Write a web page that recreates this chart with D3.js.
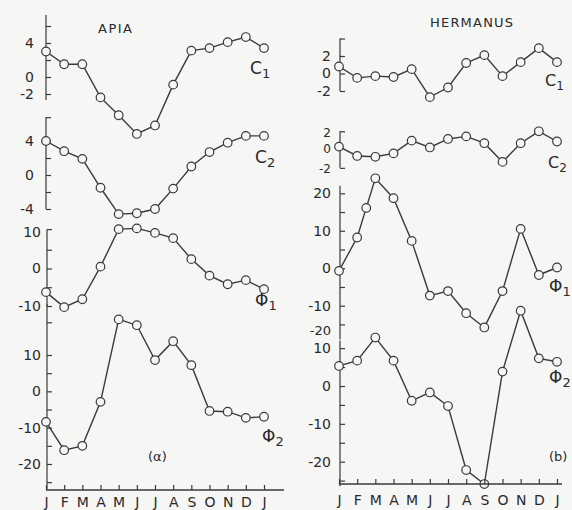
<!DOCTYPE html>
<html>
<head>
<meta charset="utf-8">
<script src="https://cdn.jsdelivr.net/npm/d3@7"></script>
<style>
  body { margin: 0; background: #f6f6f4; }
  svg { display: block; }
  text { font-family: "DejaVu Sans", sans-serif; fill: #2a2a2a; }
</style>
</head>
<body>
<svg id="chart" width="572" height="510"></svg>
<script>
// month initials along the bottom
var months = ["J","F","M","A","M","J","J","A","S","O","N","D","J"];
var monthIdx = d3.range(13);

// Apia (a)
var apiaC1   = [3.0, 1.5, 1.5, -2.4, -4.5, -6.7, -5.7, -0.9, 3.1, 3.4, 4.1, 4.7, 3.4];
var apiaC2   = [4.0, 2.8, 1.9, -1.5, -4.6, -4.5, -4.0, -1.6, 1.0, 2.7, 3.8, 4.6, 4.6];
var apiaPhi1 = [-6.3, -10.3, -8.2, 0.5, 10.5, 10.7, 9.5, 8.1, 2.5, -1.9, -4.2, -3.1, -5.5];
var apiaPhi2 = [-8.4, -16.2, -15.0, -2.9, 19.8, 18.2, 8.6, 13.8, 7.2, -5.4, -5.6, -7.3, -7.0];

// Hermanus (b)
var hermC1   = [0.8, -0.5, -0.3, -0.4, 0.5, -2.7, -1.6, 1.2, 2.1, -0.3, 1.3, 2.9, 1.3];
var hermC2   = [0.4, -0.7, -0.8, -0.4, 1.1, 0.3, 1.3, 1.6, 0.8, -1.4, 0.8, 2.2, 1.0];
var hermPhi1Idx = [0, 1, 1.5, 2, 3, 4, 5, 6, 7, 8, 9, 10, 11, 12];
var hermPhi1 = [-0.7, 8.2, 16.1, 24.0, 18.7, 7.3, -7.3, -6.1, -12.0, -15.8, -6.1, 10.5, -1.8, 0.2];
var hermPhi2 = [5.3, 6.7, 12.8, 6.7, -3.9, -1.7, -5.3, -22.2, -25.9, 3.8, 19.9, 7.3, 6.4];

var ink = "#3a3a3a";
var svg = d3.select("#chart");

var xA = d3.scaleLinear().domain([0, 12]).range([46, 264]);
var xB = d3.scaleLinear().domain([0, 12]).range([339, 557]);

// one small plot: y axis with right-pointing ticks, line and open circles
function plot(o) {
  var y = d3.scaleLinear().domain(o.domain).range(o.range);
  var g = svg.append("g");

  g.append("line")
    .attr("x1", o.ax).attr("x2", o.ax)
    .attr("y1", y(o.extent[0])).attr("y2", y(o.extent[1]))
    .attr("stroke", ink).attr("stroke-width", 1.2);

  var axis = d3.axisLeft(y)
    .tickValues(o.ticks)
    .tickSizeInner(-5).tickSizeOuter(0)
    .tickPadding(o.pad)
    .tickFormat(function(d){ return o.labels.indexOf(d) >= 0 ? d : ""; });

  var ag = g.append("g")
    .attr("transform", "translate(" + o.ax + ",0)")
    .call(axis);
  ag.select(".domain").remove();
  ag.selectAll("line").attr("stroke", ink).attr("stroke-width", 1.2);
  ag.selectAll("text")
    .style("font-size", "14px")
    .style("font-family", "DejaVu Sans, sans-serif")
    .attr("fill", "#2a2a2a");

  var pts = o.values.map(function(v, i){ return [o.idx[i], v]; });
  var line = d3.line()
    .x(function(d){ return o.x(d[0]); })
    .y(function(d){ return y(d[1]); });

  g.append("path")
    .attr("d", line(pts))
    .attr("fill", "none")
    .attr("stroke", ink)
    .attr("stroke-width", 1.4);

  g.selectAll("circle")
    .data(pts)
    .enter()
    .append("circle")
      .attr("cx", function(d){ return o.x(d[0]); })
      .attr("cy", function(d){ return y(d[1]); })
      .attr("r", 4.3)
      .attr("fill", "#f6f6f4")
      .attr("stroke", ink)
      .attr("stroke-width", 1.2);
}

// ---- Apia
plot({ x: xA, idx: monthIdx, values: apiaC1, domain: [-2, 4], range: [94, 43],
  ax: 46, extent: [-2.7, 7.3], ticks: [6, 4, 2, 0, -2], labels: [4, 0, -2], pad: 12 });
plot({ x: xA, idx: monthIdx, values: apiaC2, domain: [-4, 4], range: [209, 141],
  ax: 46, extent: [-4, 6.8], ticks: [6.8, 4, 2, 0, -2, -4], labels: [4, 0, -4], pad: 12 });
plot({ x: xA, idx: monthIdx, values: apiaPhi1, domain: [-10, 10], range: [306, 231],
  ax: 47, extent: [-10, 10.5], ticks: [10.5, 5, 0, -5, -10], labels: [0, -10], pad: 6 });
plot({ x: xA, idx: monthIdx, values: apiaPhi2, domain: [-20, 10], range: [464, 355],
  ax: 47, extent: [-26.9, 24], ticks: [19, 10, 5, 0, -5, -10, -15, -20, -25], labels: [10, 0, -10, -20], pad: 6 });

// Apia "10" label of phi1 sits on its top tick
svg.append("text").attr("x", 41).attr("y", 237).attr("text-anchor", "end")
  .style("font-size", "14px").text("10");

// ---- Hermanus
plot({ x: xB, idx: monthIdx, values: hermC1, domain: [-2, 2], range: [91, 56],
  ax: 340, extent: [-2, 4], ticks: [4, 2, 0, -2], labels: [2, 0, -2], pad: 9 });
plot({ x: xB, idx: monthIdx, values: hermC2, domain: [-2, 2], range: [167, 133],
  ax: 340, extent: [-2.1, 2.2], ticks: [2.2, -2.1], labels: [], pad: 9 });
plot({ x: xB, idx: hermPhi1Idx, values: hermPhi1, domain: [-10, 20], range: [305.7, 193.3],
  ax: 340, extent: [-19, 22], ticks: [20, 15, 10, 5, 0, -5, -10, -15], labels: [20, 10, 0, -10], pad: 9 });
plot({ x: xB, idx: monthIdx, values: hermPhi2, domain: [-20, 0], range: [461.7, 386],
  ax: 340, extent: [-26.5, 12], ticks: [10, 5, 0, -5, -10, -15, -20, -25], labels: [10, 0, -10, -20], pad: 9 });

// hermanus C2 tick labels, packed tight as in the print
[["2", 136.5], ["0", 152.5], ["-2", 172.5]].forEach(function(t){
  svg.append("text").attr("x", 331).attr("y", t[1]).attr("text-anchor", "end")
    .style("font-size", "12px").text(t[0]);
});
svg.append("text").attr("x", 331).attr("y", 335).attr("text-anchor", "end")
  .style("font-size", "13px").text("-20");

// ---- bottom month axes
function monthAxis(x, yPos, x2, pad) {
  var ax = d3.axisBottom(x)
    .tickValues(monthIdx)
    .tickSizeInner(-5).tickSizeOuter(0)
    .tickPadding(pad)
    .tickFormat(function(i){ return months[i]; });
  var g = svg.append("g").attr("transform", "translate(0," + yPos + ")").call(ax);
  g.select(".domain").remove();
  g.selectAll("line").attr("stroke", ink).attr("stroke-width", 1.2);
  g.selectAll("text")
    .style("font-size", "14px")
    .style("font-family", "DejaVu Sans, sans-serif")
    .attr("fill", "#222");
  svg.append("line")
    .attr("x1", x(0)).attr("x2", x2)
    .attr("y1", yPos).attr("y2", yPos)
    .attr("stroke", ink).attr("stroke-width", 1.3);
}
monthAxis(xA, 490, 284, 7);
monthAxis(xB, 484, 562, 11);

// ---- captions
function label(x, y, txt, size, sub, spacing) {
  var t = svg.append("text").attr("x", x).attr("y", y).style("font-size", size + "px");
  if (spacing) t.style("letter-spacing", spacing + "px");
  t.append("tspan").text(txt);
  if (sub) t.append("tspan").attr("dy", 4).style("font-size", (size - 4) + "px").text(sub);
}
label(98, 33, "APIA", 13, null, 1.5);
label(430, 27, "HERMANUS", 13, null, 1.2);
label(250, 74, "C", 17, "1");
label(255, 163, "C", 17, "2");
label(255, 306, "\u03a6", 17, "1");
label(262, 442, "\u03a6", 17, "2");
label(148, 461, "(\u03b1)", 13);

label(545, 86, "C", 16, "1");
label(548, 168, "C", 16, "2");
label(549, 292, "\u03a6", 17, "1");
label(549, 383, "\u03a6", 17, "2");
label(549, 461, "(b)", 13);
</script>
</body>
</html>
